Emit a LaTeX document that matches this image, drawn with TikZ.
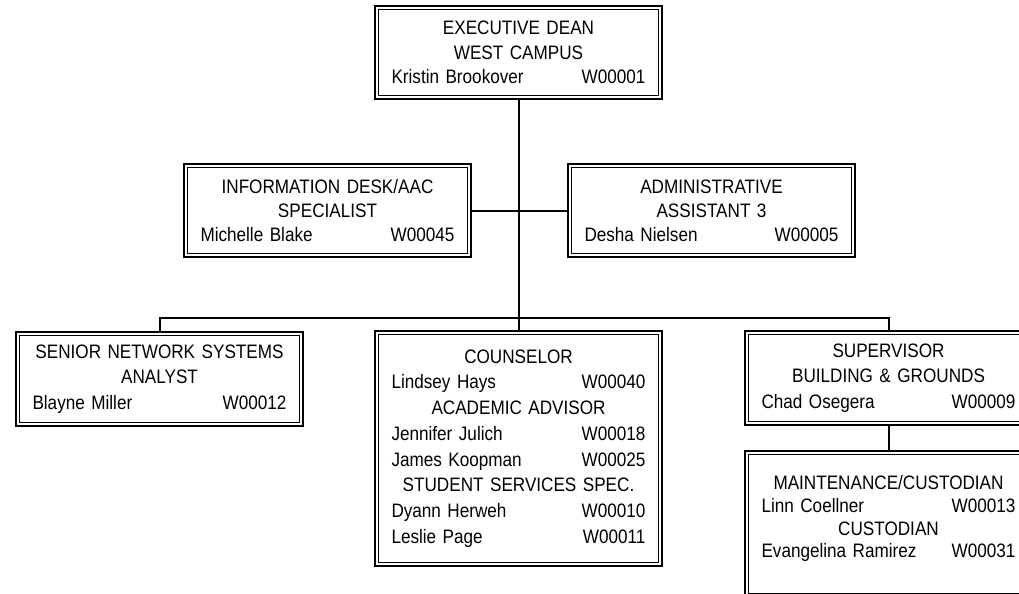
\documentclass[tikz,border=0pt]{standalone}
\usepackage{fontspec}
\setmainfont{Liberation Sans}[FakeStretch=0.88]
\newcommand\orgc[1]{\makebox[\hsize]{#1}}
\newcommand\orgn[2]{\makebox[\hsize]{#1\hfill#2}}
\tikzset{
  orgbox/.style={draw, line width=1.5pt, inner sep=0pt, minimum width=287*0.75pt,
    text width=254*0.75pt, align=center, font=\fontsize{14.6pt}{19.3pt}\selectfont},
  inner/.style={line width=1pt},
  link/.style={line width=1.5pt}
}
\begin{document}
\begin{tikzpicture}[x=0.75pt,y=-0.75pt]
\useasboundingbox (0,0) rectangle (1019,593);
\clip (0,0) rectangle (1019,593);
\node[orgbox, minimum height=93*0.75pt, font=\fontsize{14.6pt}{18.5pt}\selectfont] (exec) at (518.5,52.5)
  {\orgc{EXECUTIVE DEAN}\\\orgc{WEST CAMPUS}\\\orgn{Kristin Brookover}{W00001}};
\node[orgbox, minimum height=93*0.75pt, font=\fontsize{14.6pt}{18pt}\selectfont] (info) at (327.5,210.5)
  {\orgc{INFORMATION DESK/AAC}\\\orgc{SPECIALIST}\\\orgn{Michelle Blake}{W00045}};
\node[orgbox, minimum height=93*0.75pt, font=\fontsize{14.6pt}{18pt}\selectfont] (admin) at (711.5,210.5)
  {\orgc{ADMINISTRATIVE}\\\orgc{ASSISTANT 3}\\\orgn{Desha Nielsen}{W00005}};
\node[orgbox, minimum height=94*0.75pt] (senior) at (159.5,379)
  {\orgc{SENIOR NETWORK SYSTEMS}\\\orgc{ANALYST}\\\orgn{Blayne Miller}{W00012}};
\node[orgbox, minimum height=235*0.75pt] (couns) at (518.5,448.5)
  {\orgc{COUNSELOR}\\\orgn{Lindsey Hays}{W00040}\\\orgc{ACADEMIC ADVISOR}\\
   \orgn{Jennifer Julich}{W00018}\\\orgn{James Koopman}{W00025}\\
   \orgc{STUDENT SERVICES SPEC.}\\\orgn{Dyann Herweh}{W00010}\\\orgn{Leslie Page}{W00011}};
\node[orgbox, minimum height=94*0.75pt] (super) at (888.5,378)
  {\orgc{SUPERVISOR}\\\orgc{BUILDING \& GROUNDS}\\\orgn{Chad Osegera}{W00009}};
\node[orgbox, minimum height=146*0.75pt, font=\fontsize{14.6pt}{17pt}\selectfont] (maint) at (888.5,524)
  {\orgc{MAINTENANCE/CUSTODIAN}\\\orgn{Linn Coellner}{W00013}\\\orgc{CUSTODIAN}\\
   \orgn{Evangelina Ramirez}{W00031}\rule[-11pt]{0pt}{11pt}};
\foreach \b in {exec,info,admin,senior,couns,super,maint}
  \draw[inner] ([shift={(4.5,4.5)}]\b.north west) rectangle ([shift={(-4.5,-4.5)}]\b.south east);
\coordinate (bus) at (518.5,318);
\draw[link] (exec.south) -- (couns.north);
\draw[link] (info.east) -- (admin.west);
\draw[link] (senior.north) -- (senior.north |- bus) -| (super.north);
\draw[link] (super.south) -- (maint.north);
\end{tikzpicture}
\end{document}
